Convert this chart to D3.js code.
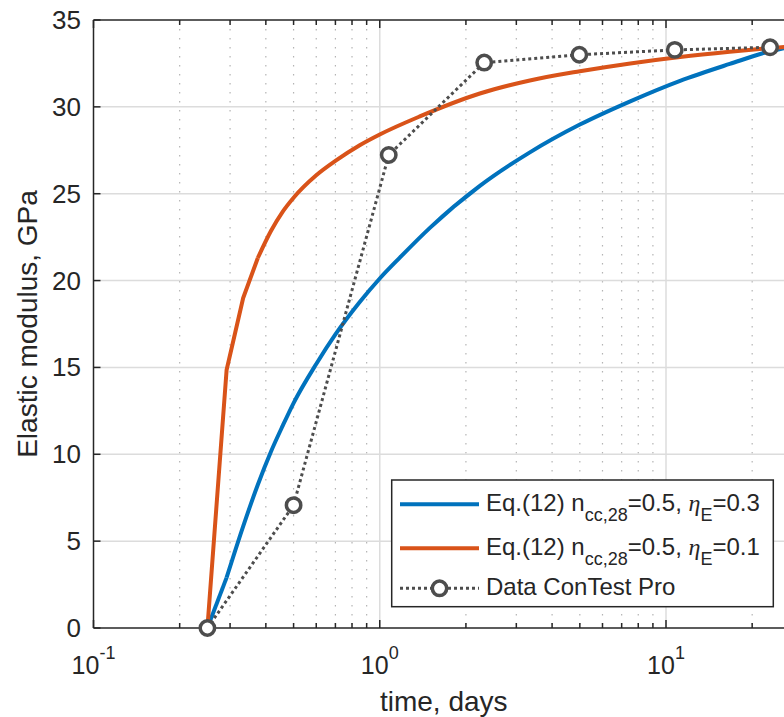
<!DOCTYPE html>
<html>
<head>
<meta charset="utf-8">
<script src="https://cdn.jsdelivr.net/npm/d3@7"></script>
<style>
html,body{margin:0;padding:0;background:#fff;}
svg{display:block;}
text{font-family:"Liberation Sans",Arial,Helvetica,sans-serif;fill:#262626;}
</style>
</head>
<body>
<svg id="chart" width="784" height="717"></svg>
<script>
// ---- data ----
const blueT = [0.25, 0.2917, 0.3333, 0.375, 0.4167, 0.4583, 0.5, 0.6, 0.7, 0.85, 1.0, 1.175, 1.5, 2.237, 3.345, 5.0, 7.5, 11.2, 16.7, 23.1, 28];
const blueV = [0, 2.9, 5.85, 8.25, 10.15, 11.65, 12.95, 15.2, 16.9, 18.75, 20.12, 21.32, 23.05, 25.45, 27.38, 28.98, 30.32, 31.5, 32.47, 33.2, 33.5];
const orangeT = [0.25, 0.2917, 0.3333, 0.375, 0.4167, 0.4583, 0.5, 0.6, 0.706, 0.851, 1.0, 1.38, 2.237, 3.345, 5.0, 7.5, 11.2, 16.7, 23.1, 28];
const orangeV = [0, 14.85, 19.0, 21.3, 22.85, 23.97, 24.77, 26.06, 26.93, 27.79, 28.41, 29.45, 30.77, 31.52, 32.05, 32.5, 32.87, 33.17, 33.38, 33.5];
const dataT = [0.25, 0.5, 1.075, 2.317, 4.98, 10.73, 23.1];
const dataV = [0, 7.07, 27.23, 32.55, 33.0, 33.28, 33.43];
const yTicks = [0, 5, 10, 15, 20, 25, 30, 35];
const xMajor = [0.1, 1, 10];
const xMinor = [0.2,0.3,0.4,0.5,0.6,0.7,0.8,0.9,2,3,4,5,6,7,8,9,20];
const xTickExp = ["-1", "0", "1"];
const legendItems = [
  {key:"blue", base:"Eq.(12) n", sub:"cc,28", mid:"=0.5, ", eta:"η", sub2:"E", tail:"=0.3"},
  {key:"orange", base:"Eq.(12) n", sub:"cc,28", mid:"=0.5, ", eta:"η", sub2:"E", tail:"=0.1"},
  {key:"data", text:"Data ConTest Pro"}
];

(function(){
const colors = {blue:"#0072BD", orange:"#D95319", data:"#4d4d4d"};
const axisColor = "#262626";

const svg = d3.select("#chart");
const pL = 93.5, pR = 794, pT = 20, pB = 628;
const x = d3.scaleLog().domain([0.1, 28]).range([pL, pR]);
const y = d3.scaleLinear().domain([0, 35]).range([pB, pT]);

// grid
const grid = svg.append("g");
grid.selectAll(".minor").data(xMinor).enter().append("line")
  .attr("x1", d=>x(d)).attr("x2", d=>x(d)).attr("y1", pT).attr("y2", pB)
  .attr("stroke", "#b4b4b4").attr("stroke-width", 1.2).attr("stroke-dasharray", "1.5,7.5");
grid.selectAll(".majx").data(xMajor.slice(1)).enter().append("line")
  .attr("x1", d=>x(d)).attr("x2", d=>x(d)).attr("y1", pT).attr("y2", pB)
  .attr("stroke", "#dcdcdc").attr("stroke-width", 1.5);
grid.selectAll(".majy").data(yTicks.slice(1, -1)).enter().append("line")
  .attr("x1", pL).attr("x2", pR).attr("y1", d=>y(d)).attr("y2", d=>y(d))
  .attr("stroke", "#dcdcdc").attr("stroke-width", 1.5);

// curves
svg.append("clipPath").attr("id","clip").append("rect")
  .attr("x", pL).attr("y", pT).attr("width", pR-pL).attr("height", pB-pT);
const plot = svg.append("g").attr("clip-path", "url(#clip)");
const smooth = d3.line().x(d=>x(d[0])).y(d=>y(d[1])).curve(d3.curveMonotoneX);
const straight = d3.line().x(d=>x(d[0])).y(d=>y(d[1]));

// early hourly samples drawn straight, rest smooth
function drawCurve(T, V, col, split) {
  const pts = d3.zip(T, V);
  const early = pts.filter(p => p[0] <= split);
  const late = pts.filter(p => p[0] >= split);
  const g = plot.append("g").attr("fill","none").attr("stroke", col).attr("stroke-width", 4)
    .attr("stroke-linejoin","round");
  g.append("path").datum(early).attr("d", straight);
  g.append("path").datum(late).attr("d", smooth);
}
drawCurve(blueT, blueV, colors.blue, 0.2917);
drawCurve(orangeT, orangeV, colors.orange, 0.375);

plot.append("path").datum(d3.zip(dataT, dataV)).attr("d", straight)
  .attr("fill","none").attr("stroke", colors.data).attr("stroke-width", 3).attr("stroke-dasharray","3,3");

// axes
const axG = svg.append("g");
function hLine(yy){ axG.append("line").attr("x1", pL).attr("x2", pR).attr("y1", yy).attr("y2", yy).attr("stroke", axisColor).attr("stroke-width", 1.5); }
function vLine(xx){ axG.append("line").attr("x1", xx).attr("x2", xx).attr("y1", pT).attr("y2", pB).attr("stroke", axisColor).attr("stroke-width", 1.5); }
hLine(pB); hLine(pT); vLine(pL); vLine(pR);

[[pB, -1],[pT, 1]].forEach(([yy, dir]) => {
  axG.selectAll(null).data(xMajor).enter().append("line")
    .attr("x1", d=>x(d)).attr("x2", d=>x(d)).attr("y1", yy).attr("y2", yy + dir*8)
    .attr("stroke", axisColor).attr("stroke-width", 1.5);
  axG.selectAll(null).data(xMinor).enter().append("line")
    .attr("x1", d=>x(d)).attr("x2", d=>x(d)).attr("y1", yy).attr("y2", yy + dir*5)
    .attr("stroke", axisColor).attr("stroke-width", 1.5);
});
axG.selectAll(null).data(yTicks).enter().append("line")
  .attr("x1", pL).attr("x2", pL + 7).attr("y1", d=>y(d)).attr("y2", d=>y(d))
  .attr("stroke", axisColor).attr("stroke-width", 1.5);
axG.selectAll(null).data(yTicks).enter().append("text")
  .attr("x", 81).attr("y", d=>y(d) + 9).attr("text-anchor","end")
  .attr("font-size", 26).text(d=>d);

xMajor.forEach((v,i) => {
  const t = axG.append("text").attr("x", x(v)).attr("y", 674).attr("text-anchor","middle").attr("font-size", 25);
  t.append("tspan").text("10");
  t.append("tspan").attr("font-size", 18).attr("dy", -15).text(xTickExp[i]);
});

svg.append("text").attr("x", (pL+pR)/2).attr("y", 711).attr("text-anchor","middle")
  .attr("font-size", 28).text("time, days");
svg.append("text").attr("transform", `translate(37,${(pT+pB)/2}) rotate(-90)`)
  .attr("text-anchor","middle").attr("font-size", 28).text("Elastic modulus, GPa");

// data markers
svg.append("g").selectAll("circle").data(d3.zip(dataT, dataV)).enter().append("circle")
  .attr("cx", d=>x(d[0])).attr("cy", d=>y(d[1])).attr("r", 7.2)
  .attr("fill","#fff").attr("stroke", colors.data).attr("stroke-width", 3.5);

// legend
const lg = svg.append("g");
lg.append("rect").attr("x", 391.7).attr("y", 480).attr("width", 381.6).attr("height", 126.7)
  .attr("fill","#fff").attr("stroke", axisColor).attr("stroke-width", 1.5);
const rowY = [504.3, 548.3, 588.3];
legendItems.forEach((it, i) => {
  const yy = rowY[i];
  if (it.key === "data") {
    lg.append("line").attr("x1", 400).attr("x2", 479).attr("y1", yy).attr("y2", yy)
      .attr("stroke", colors.data).attr("stroke-width", 3).attr("stroke-dasharray","3,3");
    lg.append("circle").attr("cx", 439.5).attr("cy", yy).attr("r", 7.2)
      .attr("fill","#fff").attr("stroke", colors.data).attr("stroke-width", 3.5);
    lg.append("text").attr("x", 486).attr("y", yy + 7).attr("font-size", 24).text(it.text);
  } else {
    lg.append("line").attr("x1", 400).attr("x2", 479).attr("y1", yy).attr("y2", yy)
      .attr("stroke", colors[it.key]).attr("stroke-width", 4);
    const t = lg.append("text").attr("x", 486).attr("y", yy + 7).attr("font-size", 24);
    t.append("tspan").text(it.base);
    t.append("tspan").attr("font-size", 18).attr("dy", 10).text(it.sub);
    t.append("tspan").attr("dy", -10).text(it.mid);
    t.append("tspan").attr("font-family", "'Liberation Serif', 'Times New Roman', serif").attr("font-style","italic").text(it.eta);
    t.append("tspan").attr("font-size", 18).attr("dy", 10).text(it.sub2);
    t.append("tspan").attr("dy", -10).text(it.tail);
  }
});
})();
</script>
</body>
</html>
